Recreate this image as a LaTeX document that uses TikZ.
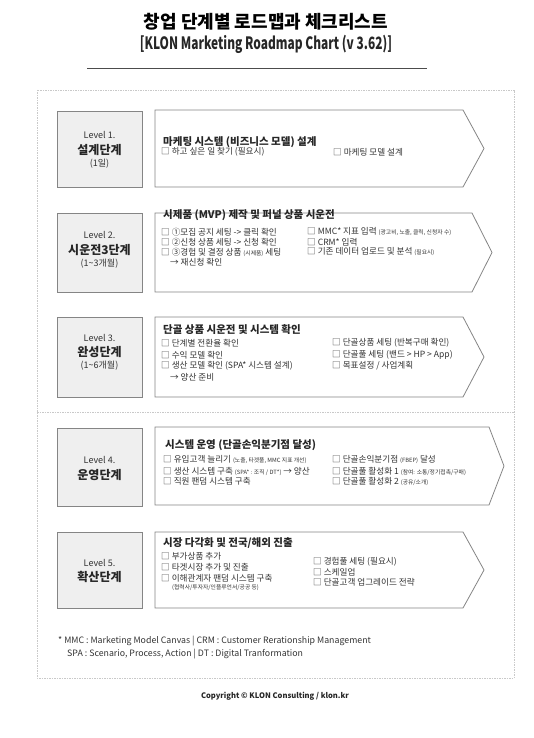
\documentclass[tikz,border=0pt]{standalone}
\usepackage{fontspec}
\setmainfont{Noto Sans CJK KR}
\newfontfamily\condfont[FakeStretch=0.7]{Noto Sans CJK KR}
\usetikzlibrary{calc}
\definecolor{boxgray}{HTML}{EFEFEF}
\definecolor{linegray}{HTML}{858585}
\definecolor{framegray}{HTML}{C9C9C9}
\definecolor{textdark}{HTML}{333333}
\def\itemsize{\fontsize{8.6}{10}\selectfont}
\def\tinysize{\fontsize{5.8}{7}\selectfont}
\def\chk{□\hspace{2pt}}
\def\stagearrow(#1:#2:#3:#4){\draw[arrowline] (155,#1) -- (#3,#1) -- (#4,{(#1+#2)/2}) -- (#3,#2) -- (155,#2) -- cycle;}
\tikzset{
  levelbox/.style={draw=linegray, fill=boxgray, line width=0.8pt, minimum width=85pt, inner sep=0},
  arrowline/.style={draw=linegray, fill=white, line width=0.8pt},
  lvnum/.style={font=\fontsize{9}{10}\selectfont, text=textdark, inner sep=0},
  lvname/.style={font=\bfseries\fontsize{12}{14}\selectfont, text=black!85, inner sep=0},
  stagetitle/.style={anchor=west, font=\bfseries\fontsize{10.5}{12}\selectfont, text=black!85, inner sep=0},
  checkitem/.style={anchor=west, font=\itemsize, text=textdark, inner sep=0},
  notetext/.style={anchor=west, font=\fontsize{8.8}{10}\selectfont, text=textdark, inner sep=0}
}
\begin{document}
\begin{tikzpicture}[x=1pt, y=-1pt]
		%%%%% START %%%%%
		\useasboundingbox (0,0) rectangle (533,738);
		
		\node[font=\bfseries\fontsize{18}{20}\selectfont] (title) at (266,22) {창업 단계별 로드맵과 체크리스트};
		\node[font=\condfont\bfseries\fontsize{17}{20}\selectfont, text=black!85] (subtitle) at (266,44) {[KLON Marketing Roadmap Chart (v 3.62)]};
		\draw[line width=0.7pt, color=black!70] (87,68) -- (427,68);
		
		\draw[dashed, dash pattern=on 1.5pt off 1pt, line width=0.5pt, color=framegray] (37,90) rectangle (514,678);
		\draw[dashed, dash pattern=on 1.5pt off 1pt, line width=0.5pt, color=framegray] (37,412) -- (514,412);
		
		% level 1
		\node[levelbox, minimum height=76pt] (lv1) at (99.5,149) {};
		\node[lvnum] (lv1num) at (99.5,135) {Level 1.};
		\node[lvname] (lv1name) at (99.5,150) {설계단계};
		\node[lvnum] (lv1time) at (99.5,164) {(1일)};
		\stagearrow(110:187:463:484)
		\node[stagetitle] (st1) at (163,142) {마케팅 시스템 (비즈니스 모델) 설계};
		\node[checkitem] (st1a) at (161,152) {\chk 하고 싶은 일 찾기 (필요시)};
		\node[checkitem] (st1b) at (333,152) {\chk 마케팅 모델 설계};
		
		% level 2
		\node[levelbox, minimum height=79pt] (lv2) at (99.5,252.5) {};
		\node[lvnum] (lv2num) at (99.5,235) {Level 2.};
		\node[lvname] (lv2name) at (99.5,250) {시운전3단계};
		\node[lvnum] (lv2time) at (99.5,264) {(1\textasciitilde3개월)};
		\stagearrow(213:292:472:492)
		\node[stagetitle] (st2) at (163,215) {시제품 (MVP) 제작 및 퍼널 상품 시운전};
		\node[checkitem] (st2a) at (161,232) {\chk ①모집 공지 세팅 -> 클릭 확인};
		\node[checkitem] (st2b) at (161,242) {\chk ②신청 상품 세팅 -> 신청 확인};
		\node[checkitem] (st2c) at (161,252) {\chk ③경험 및 결정 상품 {\tinysize (시제품)} 세팅};
		\node[checkitem] (st2d) at (170,262) {→ 재신청 확인};
		\node[checkitem] (st2e) at (307,232) {\chk MMC* 지표 입력 {\tinysize (광고비, 노출, 클릭, 신청자 수)}};
		\node[checkitem] (st2f) at (307,242) {\chk CRM* 입력};
		\node[checkitem] (st2g) at (307,252) {\chk 기존 데이터 업로드 및 분석 {\tinysize (필요시)}};
		
		% level 3
		\node[levelbox, minimum height=80pt] (lv3) at (99.5,357) {};
		\node[lvnum] (lv3num) at (99.5,338) {Level 3.};
		\node[lvname] (lv3name) at (99.5,352) {완성단계};
		\node[lvnum] (lv3time) at (99.5,366) {(1\textasciitilde6개월)};
		\stagearrow(317:397:463:484)
		\node[stagetitle] (st3) at (163,330) {단골 상품 시운전 및 시스템 확인};
		\node[checkitem] (st3a) at (161,343) {\chk 단계별 전환율 확인};
		\node[checkitem] (st3b) at (161,355) {\chk 수익 모델 확인};
		\node[checkitem] (st3c) at (161,366) {\chk 생산 모델 확인 (SPA* 시스템 설계)};
		\node[checkitem] (st3d) at (170,377) {→ 양산 준비};
		\node[checkitem] (st3e) at (332,343) {\chk 단골상품 세팅 (반복구매 확인)};
		\node[checkitem] (st3f) at (332,355) {\chk 단골풀 세팅 (밴드 > HP > App)};
		\node[checkitem] (st3g) at (332,366) {\chk 목표설정 / 사업계획};
		
		% level 4
		\node[levelbox, minimum height=78pt] (lv4) at (99.5,467) {};
		\node[lvnum] (lv4num) at (99.5,460) {Level 4.};
		\node[lvname] (lv4name) at (99.5,475) {운영단계};
		\stagearrow(427:505:489:504)
		\node[stagetitle] (st4) at (165,445) {시스템 운영 (단골손익분기점 달성)};
		\node[checkitem] (st4a) at (163,460) {\chk 유입고객 늘리기 {\tinysize (노출, 타겟풀, MMC 지표 개선)}};
		\node[checkitem] (st4b) at (163,471) {\chk 생산 시스템 구축 {\tinysize (SPA* : 조직 / DT*)} → 양산};
		\node[checkitem] (st4c) at (163,481) {\chk 직원 팬덤 시스템 구축};
		\node[checkitem] (st4d) at (332,460) {\chk 단골손익분기점 {\tinysize (FBEP)} 달성};
		\node[checkitem] (st4e) at (332,471) {\chk 단골풀 활성화 1 {\tinysize (참여: 소통/정기접촉/구매)}};
		\node[checkitem] (st4f) at (332,481) {\chk 단골풀 활성화 2 {\tinysize (공유/소개)}};
		
		% level 5
		\node[levelbox, minimum height=76pt] (lv5) at (99.5,570) {};
		\node[lvnum] (lv5num) at (99.5,563) {Level 5.};
		\node[lvname] (lv5name) at (99.5,577) {확산단계};
		\stagearrow(532:608:463:484)
		\node[stagetitle] (st5) at (163,543) {시장 다각화 및 전국/해외 진출};
		\node[checkitem] (st5a) at (161,556) {\chk 부가상품 추가};
		\node[checkitem] (st5b) at (161,567) {\chk 타겟시장 추가 및 진출};
		\node[checkitem] (st5c) at (161,578) {\chk 이해관계자 팬덤 시스템 구축};
		\node[checkitem, font=\tinysize] (st5d) at (172,588) {(협력사/투자자/인플루언서/공공 등)};
		\node[checkitem] (st5e) at (313,562) {\chk 경험풀 세팅 (필요시)};
		\node[checkitem] (st5f) at (313,572) {\chk 스케일업};
		\node[checkitem] (st5g) at (313,582) {\chk 단골고객 업그레이드 전략};
		
		\node[notetext] (note1) at (58,641) {* MMC : Marketing Model Canvas | CRM : Customer Rerationship Management};
		\node[notetext] (note2) at (67,654) {SPA : Scenario, Process, Action | DT : Digital Tranformation};
		
		\node[font=\bfseries\fontsize{7.6}{9}\selectfont, text=black!85] (copy) at (275,696) {Copyright © KLON Consulting / klon.kr};
		%%%%% END %%%%%
\end{tikzpicture}
\end{document}
